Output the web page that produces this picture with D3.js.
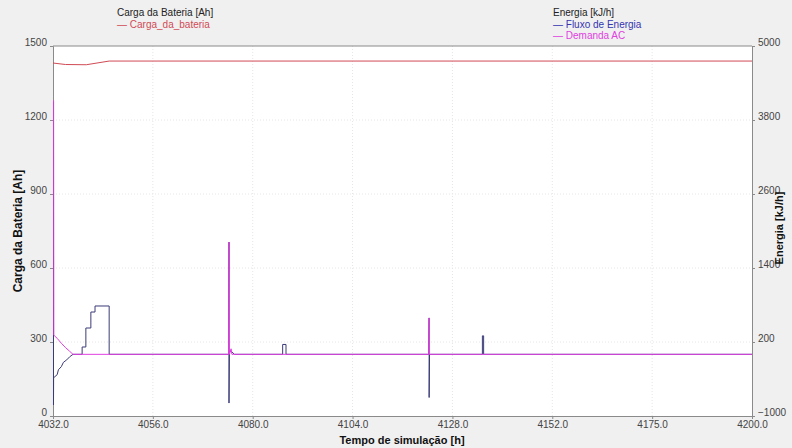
<!DOCTYPE html>
<html>
<head>
<meta charset="utf-8">
<script src="https://cdn.jsdelivr.net/npm/d3@7"></script>
<style>
    body { margin: 0; background: #f0f0f0; }
    svg { display: block; font-family: "Liberation Sans", Arial, sans-serif; }
</style>
</head>
<body>
<div id="chart"></div>
<script>
"use strict";

// time ticks [h]
const timeTicks = [4032, 4056, 4080, 4104, 4128, 4152, 4176, 4200];
const timeTickLabels = ["4032.0", "4056.0", "4080.0", "4104.0", "4128.0", "4152.0", "4175.0", "4200.0"];
const chargeTicks = [0, 300, 600, 900, 1200, 1500];
const energyTicks = [-1000, 200, 1400, 2600, 3800, 5000];

// Carga_da_bateria [Ah]
const chargeTime = [4032, 4035, 4040, 4045.5, 4200];
const chargeValue = [1431, 1425, 1424, 1439, 1439];

// Fluxo de Energia [kJ/h]
const fluxTime = [4032.12, 4032.12, 4032.15, 4033, 4033.3, 4034, 4034.5, 4035.3, 4036, 4036.8,
    4039.0, 4039.0, 4039.9, 4039.9, 4041.1, 4041.1, 4042.1, 4042.1, 4045.5, 4045.5,
    4074.2, 4074.3, 4074.3, 4074.4, 4075.0, 4075.6,
    4087.2, 4087.2, 4088.0, 4088.0,
    4122.3, 4122.4, 4122.4, 4122.5,
    4135.2, 4135.2, 4135.5, 4135.5, 4200];
const fluxValue = [4100, -820, -380, -330, -250, -200, -130, -90, -40, 0,
    0, 119, 119, 427, 427, 686, 686, 784, 784, 0,
    0, 1820, -790, 60, 40, 0,
    0, 160, 160, 0,
    0, 590, -700, 0,
    0, 300, 300, 0, 0];

// Demanda AC [kJ/h]
const demandTime = [4032.15, 4032.2, 4033, 4034, 4035, 4036, 4036.8,
    4074.2, 4074.3, 4074.4, 4074.8, 4075.0, 4075.3,
    4122.3, 4122.4, 4122.5, 4200];
const demandValue = [4120, 310, 260, 180, 110, 50, 0,
    0, 1820, 0, 90, 0, 0,
    0, 590, 0, 0];

const width = 792, height = 448;
const margin = { left: 53, right: 40, top: 46, bottom: 32 };

const svg = d3.select("#chart").append("svg")
    .attr("width", width)
    .attr("height", height);

svg.append("rect").attr("width", width).attr("height", height).attr("fill", "#f0f0f0");

const x = d3.scaleLinear().domain([4032, 4200]).range([margin.left, width - margin.right]);
const yL = d3.scaleLinear().domain([0, 1500]).range([height - margin.bottom, margin.top]);
const yR = d3.scaleLinear().domain([-1000, 5000]).range([height - margin.bottom, margin.top]);

// plot background
svg.append("rect")
    .attr("x", margin.left).attr("y", margin.top)
    .attr("width", x.range()[1] - margin.left)
    .attr("height", yL.range()[0] - margin.top)
    .attr("fill", "#fff");

// grid
const grid = svg.append("g").attr("stroke", "#e6e6e6").attr("stroke-dasharray", "1,2");
grid.selectAll(".gx").data(timeTicks.slice(1, -1)).enter().append("line")
    .attr("x1", d => x(d)).attr("x2", d => x(d))
    .attr("y1", margin.top).attr("y2", yL.range()[0]);
grid.selectAll(".gy").data(chargeTicks.slice(1, -1)).enter().append("line")
    .attr("x1", margin.left).attr("x2", x.range()[1])
    .attr("y1", d => yL(d)).attr("y2", d => yL(d));

// axes
const axisStyle = g => {
    g.select(".domain").attr("stroke", "#8a8a8a");
    g.selectAll(".tick line").attr("stroke", "#8a8a8a");
    g.selectAll(".tick text").attr("fill", "#444").style("font-size", "10px");
};

svg.append("g")
    .attr("transform", `translate(0,${yL.range()[0]})`)
    .call(d3.axisBottom(x).tickValues(timeTicks).tickSize(3)
        .tickFormat((d, i) => timeTickLabels[i]))
    .call(axisStyle)
    .call(g => g.selectAll(".tick text").attr("dy", "0.55em"));

svg.append("g")
    .attr("transform", `translate(${margin.left},0)`)
    .call(d3.axisLeft(yL).tickValues(chargeTicks).tickSize(3).tickFormat(d3.format("d")))
    .call(axisStyle)
    .call(g => g.selectAll(".tick text").attr("dy", "-0.1em"));

svg.append("g")
    .attr("transform", `translate(${x.range()[1]},0)`)
    .call(d3.axisRight(yR).tickValues(energyTicks).tickSize(3).tickFormat(d3.format("d")))
    .call(axisStyle)
    .call(g => g.selectAll(".tick text").attr("dy", "-0.1em"));

// top border
svg.append("line")
    .attr("x1", margin.left).attr("x2", x.range()[1])
    .attr("y1", margin.top).attr("y2", margin.top)
    .attr("stroke", "#8a8a8a");

// series
svg.append("clipPath").attr("id", "plot-clip").append("rect")
    .attr("x", margin.left - 1).attr("y", margin.top)
    .attr("width", x.range()[1] - margin.left + 1)
    .attr("height", yL.range()[0] - margin.top);

const plot = svg.append("g").attr("clip-path", "url(#plot-clip)");

const lineL = d3.line().x(d => x(d[0])).y(d => yL(d[1]));
const lineR = d3.line().x(d => x(d[0])).y(d => yR(d[1]));

plot.append("path")
    .attr("d", lineR(d3.zip(fluxTime, fluxValue)))
    .attr("fill", "none").attr("stroke", "#3a3a78").attr("stroke-width", 1);

plot.append("path")
    .attr("d", lineR(d3.zip(demandTime, demandValue)))
    .attr("fill", "none").attr("stroke", "#e040e0").attr("stroke-width", 1);

plot.append("path")
    .attr("d", lineL(d3.zip(chargeTime, chargeValue)))
    .attr("fill", "none").attr("stroke", "#d04a55").attr("stroke-width", 1);

// legends
svg.append("text").attr("x", 117).attr("y", 16)
    .style("font-size", "10px").attr("fill", "#222").text("Carga da Bateria [Ah]");
svg.append("text").attr("x", 117).attr("y", 28)
    .style("font-size", "10px").attr("fill", "#d04a55").text("\u2014 Carga_da_bateria");

svg.append("text").attr("x", 553).attr("y", 16)
    .style("font-size", "10px").attr("fill", "#222").text("Energia [kJ/h]");
svg.append("text").attr("x", 553).attr("y", 28)
    .style("font-size", "10px").attr("fill", "#3535b0").text("\u2014 Fluxo  de  Energia");
svg.append("text").attr("x", 553).attr("y", 39)
    .style("font-size", "10px").attr("fill", "#e040e0").text("\u2014 Demanda  AC");

// axis titles
svg.append("text")
    .attr("transform", `translate(22,${(margin.top + yL.range()[0]) / 2}) rotate(-90)`)
    .attr("text-anchor", "middle")
    .style("font-size", "12px").style("font-weight", "bold").attr("fill", "#111")
    .text("Carga da Bateria [Ah]");

svg.append("text")
    .attr("transform", `translate(783,228) rotate(-90)`)
    .attr("text-anchor", "middle")
    .style("font-size", "11px").style("font-weight", "bold").attr("fill", "#111")
    .text("Energia [kJ/h]");

svg.append("text")
    .attr("x", 402).attr("y", 444)
    .attr("text-anchor", "middle")
    .style("font-size", "11px").style("font-weight", "bold").attr("fill", "#111")
    .text("Tempo de simulação [h]");
</script>
</body>
</html>
